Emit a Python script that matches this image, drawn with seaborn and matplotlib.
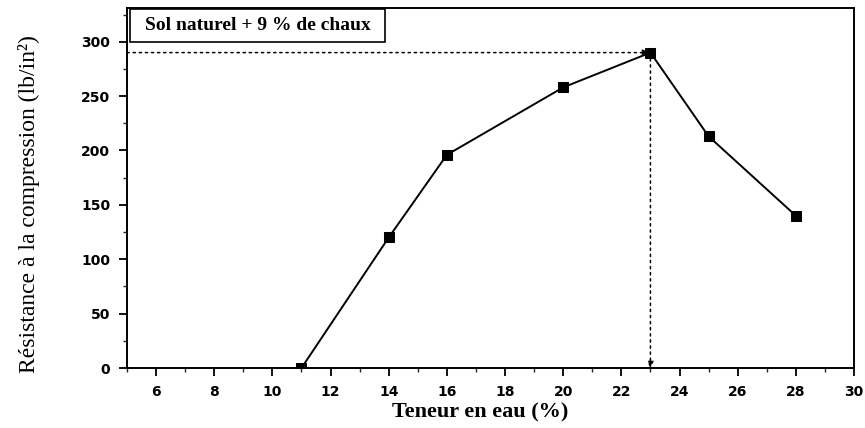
import matplotlib
matplotlib.use("Agg")
import matplotlib.pyplot as plt
import seaborn as sns
import pandas as pd
from matplotlib.ticker import MultipleLocator
from matplotlib.patches import Rectangle

teneur = [11, 14, 16, 20, 23, 25, 28]
resistance = [0, 120, 196, 258, 290, 213, 140]
x_ticks = [6, 8, 10, 12, 14, 16, 18, 20, 22, 24, 26, 28, 30]
y_ticks = [0, 50, 100, 150, 200, 250, 300]
opt_x = 23
opt_y = 290
label_box = "Sol naturel + 9 % de chaux"

sns.set_theme(style="white")
plt.rcParams['font.family'] = ['DejaVu Sans']

df = pd.DataFrame({"x": teneur, "y": resistance})
fig = plt.figure(figsize=(8.65, 4.28), dpi=100)
ax = fig.add_axes([127/865, 1-368/428, (854-127)/865, (368-8)/428])

sns.lineplot(data=df, x="x", y="y", ax=ax, color="black", linewidth=1.4,
             marker="s", markersize=7, markeredgecolor="black",
             markerfacecolor="black", legend=False)

ax.set_xlim(5, 30)
ax.set_ylim(0, 331)
ax.set_xticks(x_ticks)
ax.set_yticks(y_ticks)
ax.xaxis.set_minor_locator(MultipleLocator(1))
ax.yaxis.set_minor_locator(MultipleLocator(25))
ax.tick_params(axis="both", which="major", direction="out", length=6, width=1.3,
               labelsize=10, colors="black", bottom=True, left=True, pad=6)
ax.tick_params(axis="both", which="minor", direction="out", length=3, width=1.0,
               bottom=True, left=True)
for lab in ax.get_xticklabels() + ax.get_yticklabels():
    lab.set_fontweight("bold")
for sp in ax.spines.values():
    sp.set_color("black")
    sp.set_linewidth(1.4)

serif = ['Liberation Serif', 'DejaVu Serif']
ax.set_xlabel("Teneur en eau (%)", family=serif, fontsize=16,
              fontweight="bold", color="black")
ax.xaxis.set_label_coords((480 - 127) / 727, -(422 - 368) / 360)
ax.xaxis.label.set_va("bottom")
ax.set_ylabel("Résistance à la compression (lb/in²)", family=serif,
              fontsize=17, color="black")
ax.yaxis.set_label_coords(-(127 - 40) / 727, 0.455)

# dotted guide lines with arrows
ax.annotate("", xy=(opt_x - 0.05, opt_y), xytext=(5, opt_y),
            arrowprops=dict(arrowstyle="-|>", linestyle=(0, (1.5, 2.5)),
                            color="black", lw=1.1, shrinkA=0, shrinkB=0,
                            mutation_scale=9))
ax.annotate("", xy=(opt_x, 0), xytext=(opt_x, opt_y),
            arrowprops=dict(arrowstyle="-|>", linestyle=(0, (1.5, 2.5)),
                            color="black", lw=1.1, shrinkA=0, shrinkB=0,
                            mutation_scale=9))

box = Rectangle((0.004, 0.906), 0.351, 0.091, transform=ax.transAxes,
                facecolor="white", edgecolor="black", linewidth=1.2, zorder=5)
ax.add_patch(box)
ax.text(0.18, 0.951, label_box, transform=ax.transAxes, family=serif,
        fontsize=14, fontweight="bold", va="center", ha="center",
        color="black", zorder=6)

fig.savefig("out.png", dpi=100)
